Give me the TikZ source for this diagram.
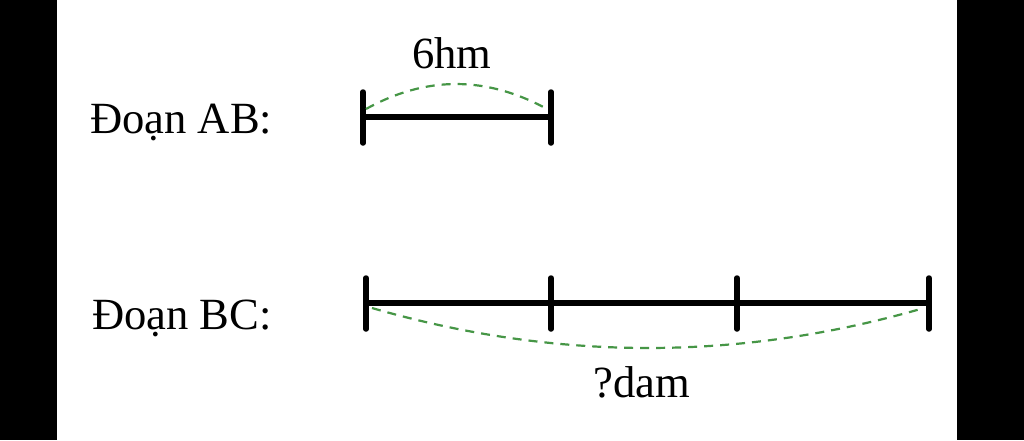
\documentclass[tikz,border=0pt]{standalone}
\usepackage{fontspec}
\setmainfont{Liberation Serif}
\definecolor{dashgreen}{RGB}{70,150,70}
\tikzset{
  seg/.style={line width=5.5pt, line cap=round},
  tick/.style={line width=5.5pt, line cap=round},
  arcline/.style={dashgreen, line width=2.2pt, dash pattern=on 9pt off 7pt},
  lbl/.style={inner sep=0pt, font=\fontsize{44.6}{50}\selectfont},
}
\begin{document}
\begin{tikzpicture}[x=1pt,y=-1pt]
\useasboundingbox (0,0) rectangle (1024,440);
\fill[white] (0,0) rectangle (1024,440);
\fill[black] (0,0) rectangle (57,440);
\fill[black] (957,0) rectangle (1024,440);
% labels
\node[lbl, anchor=base west] (labAB) at (90,133) {Đoạn AB:};
\node[lbl, anchor=base west] (labBC) at (92,329) {Đoạn BC:};
\node[lbl, anchor=base] (len) at (452,68) {6hm};
\node[lbl, anchor=base] (q) at (642,397) {?dam};
% AB
\coordinate (A) at (363,117);
\coordinate (B) at (551,117);
\coordinate (At) at (363,92);
\coordinate (Ab) at (363,143);
\coordinate (Bt) at (551,92);
\coordinate (Bb) at (551,143);
\draw[seg] (A) -- (B);
\draw[tick] (At) -- (Ab);
\draw[tick] (Bt) -- (Bb);
\coordinate (a1) at (366,109);
\coordinate (a2) at (547,109);
\draw[arcline] (a1) .. controls (426,75.7) and (486,75.7) .. (a2);
% BC
\coordinate (P0) at (366,303);
\coordinate (P1) at (551,303);
\coordinate (P2) at (737,303);
\coordinate (P3) at (929,303);
\draw[seg] (P0) -- (P3);
\foreach \p in {P0,P1,P2,P3}{
  \draw[tick] ([yshift=-26pt]\p) -- ([yshift=25pt]\p);
}
\coordinate (c1) at (372,308);
\coordinate (c2) at (924,308);
\draw[arcline] (c1) .. controls (556,361.3) and (740,361.3) .. (c2);
\end{tikzpicture}
\end{document}
